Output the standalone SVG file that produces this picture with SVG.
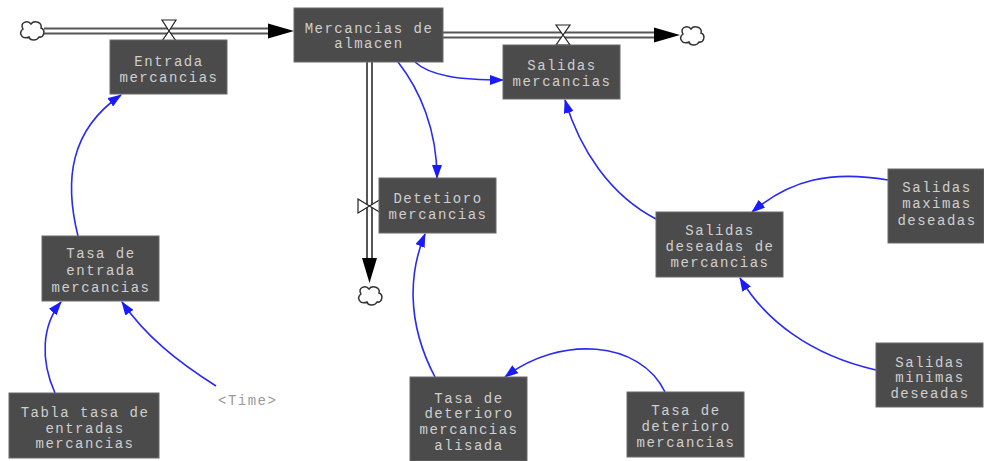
<svg xmlns="http://www.w3.org/2000/svg" width="984" height="461" viewBox="0 0 984 461">
<style>
.box{fill:#4b4b4b;stroke:#6a6a6a;stroke-width:1}
.t{font-family:"Liberation Mono","Courier New",monospace;font-size:14px;letter-spacing:1.5px;fill:#cfcfcf;text-anchor:middle}
.time{font-family:"Liberation Mono","Courier New",monospace;font-size:14px;letter-spacing:1.5px;fill:#9a9a9a}
.link{fill:none;stroke:#2a2af5;stroke-width:1.6;marker-end:url(#ah)}
.pipeo{fill:none;stroke:#555;stroke-width:7}
.pipei{fill:none;stroke:#fff;stroke-width:3}
.valve{fill:#fff;stroke:#222;stroke-width:1.2}
.cloud{fill:#fff;stroke:#333;stroke-width:1.5}
</style>
<defs>
<marker id="ah" viewBox="0 0 14 10" refX="13" refY="5" markerWidth="14" markerHeight="10" markerUnits="userSpaceOnUse" orient="auto">
<path d="M0,0 L14,5 L0,10 Z" fill="#1a1aff"/>
</marker>
<path id="cl" d="M-9,-2 C-13,-9 -4,-11 -1,-7 C2,-11 11,-9 9,-3 C14,-1 12,7 7,6 C5,10 -2,10 -3,6 C-10,9 -14,2 -9,-2 Z"/>
</defs>
<rect width="984" height="461" fill="#fff"/>

<g id="flows">
<line class="pipeo" x1="44" y1="31" x2="270" y2="31"/>
<line class="pipei" x1="44" y1="31" x2="272" y2="31"/>
<path d="M268,23.5 L294,31 L268,38.5 Z" fill="#000"/>
<use href="#cl" class="cloud" transform="translate(32,31)"/>
<path class="valve" d="M162,20 L176,20 L169,31 Z M169,31 L176,41 L162,41 Z"/>
<line class="pipeo" x1="443" y1="35" x2="657" y2="35"/>
<line class="pipei" x1="443" y1="35" x2="659" y2="35"/>
<path d="M654,27.5 L680,35 L654,42.5 Z" fill="#000"/>
<use href="#cl" class="cloud" transform="translate(692,36)"/>
<path class="valve" d="M556,25 L570,25 L563,35 Z M563,35 L570,45 L556,45 Z"/>
<line class="pipeo" x1="369.5" y1="62" x2="369.5" y2="260"/>
<line class="pipei" x1="369.5" y1="62" x2="369.5" y2="262"/>
<path d="M362,258 L369.5,283 L377,258 Z" fill="#000"/>
<use href="#cl" class="cloud" transform="translate(370,296)"/>
<path class="valve" d="M358,199 L358,213 L369.5,206 Z M369.5,206 L381,199 L381,213 Z"/>
</g>

<g id="links">
<path class="link" d="M78,236 C64,180 70,130 121,95"/>
<path class="link" d="M55,393 C40,360 42,325 61,302"/>
<path class="link" d="M216,386 C175,360 145,335 122,302"/>
<path class="link" d="M415,62 C430,76 460,80 503,80"/>
<path class="link" d="M398,62 C420,90 437,130 437,178"/>
<path class="link" d="M656,219 C610,195 580,150 565,100"/>
<path class="link" d="M888,180 C830,170 790,180 752,212"/>
<path class="link" d="M876,370 C810,355 765,320 740,278"/>
<path class="link" d="M435,377 C405,320 410,270 425,234"/>
<path class="link" d="M665,392 C640,340 560,335 505,377"/>
</g>

<g id="n_mercancias"><rect class="box" x="294" y="8" width="149" height="54"/>
<text class="t" x="369" y="33">Mercancias de</text><text class="t" x="369" y="48">almacen</text></g>

<g id="n_entrada"><rect class="box" x="110" y="40" width="117" height="54"/>
<text class="t" x="169" y="66">Entrada</text><text class="t" x="169" y="82">mercancias</text></g>

<g id="n_salidas"><rect class="box" x="503" y="45" width="117" height="54"/>
<text class="t" x="562" y="70">Salidas</text><text class="t" x="562" y="86">mercancias</text></g>

<g id="n_deterioro"><rect class="box" x="379" y="178" width="117" height="55"/>
<text class="t" x="438" y="203">Detetioro</text><text class="t" x="438" y="219">mercancias</text></g>

<g id="n_salidas_deseadas"><rect class="box" x="656" y="212" width="127" height="65"/>
<text class="t" x="720" y="235">Salidas</text><text class="t" x="720" y="251">deseadas de</text><text class="t" x="720" y="267">mercancias</text></g>

<g id="n_maximas"><rect class="box" x="888" y="169" width="96" height="74"/>
<text class="t" x="937" y="192">Salidas</text><text class="t" x="937" y="208">maximas</text><text class="t" x="937" y="225">deseadas</text></g>

<g id="n_minimas"><rect class="box" x="876" y="343" width="107" height="64"/>
<text class="t" x="930" y="367">Salidas</text><text class="t" x="930" y="382">minimas</text><text class="t" x="930" y="398">deseadas</text></g>

<g id="n_tasa_entrada"><rect class="box" x="42" y="236" width="117" height="65"/>
<text class="t" x="101" y="258">Tasa de</text><text class="t" x="101" y="275">entrada</text><text class="t" x="101" y="292">mercancias</text></g>

<g id="n_tabla"><rect class="box" x="9" y="393" width="150" height="65"/>
<text class="t" x="85" y="417">Tabla tasa de</text><text class="t" x="85" y="433">entradas</text><text class="t" x="85" y="448">mercancias</text></g>

<g id="n_time"><text class="time" x="218" y="405">&lt;Time&gt;</text></g>

<g id="n_alisada"><rect class="box" x="410" y="377" width="117" height="84"/>
<text class="t" x="469" y="403">Tasa de</text><text class="t" x="469" y="418">deterioro</text><text class="t" x="469" y="434">mercancias</text><text class="t" x="469" y="450">alisada</text></g>

<g id="n_tasa_deterioro"><rect class="box" x="627" y="392" width="117" height="65"/>
<text class="t" x="686" y="415">Tasa de</text><text class="t" x="686" y="431">deterioro</text><text class="t" x="686" y="447">mercancias</text></g>
</svg>
